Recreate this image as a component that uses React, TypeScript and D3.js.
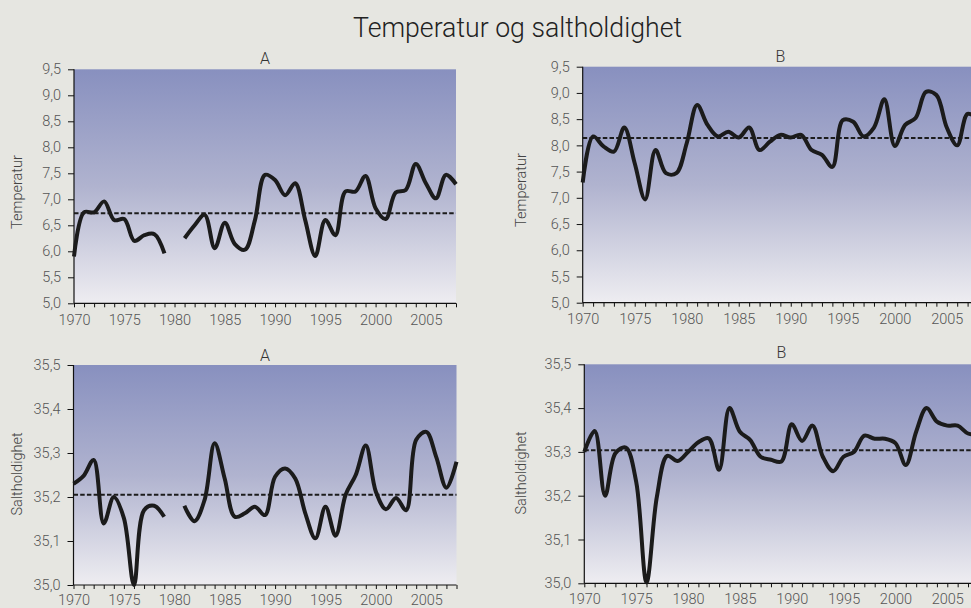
import React, { useEffect, useRef } from 'react';
import * as d3 from 'd3';

// år langs x-aksen
const years = [
  1970, 1971, 1972, 1973, 1974, 1975, 1976, 1977, 1978, 1979,
  1980, 1981, 1982, 1983, 1984, 1985, 1986, 1987, 1988, 1989,
  1990, 1991, 1992, 1993, 1994, 1995, 1996, 1997, 1998, 1999,
  2000, 2001, 2002, 2003, 2004, 2005, 2006, 2007, 2008,
];

// temperatur, stasjon A (mangler 1980)
const tempA = [
  5.9, 6.75, 6.75, 6.96, 6.6, 6.62, 6.2, 6.31, 6.33, 5.96,
  null, 6.25, 6.5, 6.7, 6.06, 6.55, 6.14, 6.03, 6.6, 7.47,
  7.37, 7.08, 7.31, 6.6, 5.91, 6.6, 6.31, 7.15, 7.15, 7.45,
  6.83, 6.62, 7.13, 7.18, 7.68, 7.31, 7.02, 7.47, 7.29,
];
// temperatur, stasjon B
const tempB = [
  7.29, 8.17, 7.98, 7.88, 8.34, 7.66, 6.97, 7.91, 7.47, 7.47,
  8.04, 8.77, 8.39, 8.17, 8.26, 8.15, 8.34, 7.91, 8.07, 8.2,
  8.15, 8.2, 7.91, 7.82, 7.59, 8.48, 8.45, 8.17, 8.34, 8.88,
  7.99, 8.39, 8.52, 9.02, 8.96, 8.34, 8.0, 8.6, 8.5,
];
// saltholdighet, stasjon A (mangler 1980)
const salA = [
  35.23, 35.248, 35.284, 35.14, 35.2, 35.152, 35.0, 35.17, 35.18, 35.155,
  null, 35.18, 35.145, 35.193, 35.322, 35.242, 35.155, 35.163, 35.178, 35.159,
  35.246, 35.265, 35.242, 35.163, 35.106, 35.178, 35.112, 35.205, 35.25, 35.317,
  35.212, 35.172, 35.198, 35.17, 35.33, 35.348, 35.29, 35.221, 35.28,
];
// saltholdighet, stasjon B
const salB = [
  35.3, 35.348, 35.2, 35.297, 35.31, 35.232, 35.002, 35.198, 35.291, 35.279,
  35.3, 35.322, 35.331, 35.259, 35.4, 35.346, 35.327, 35.289, 35.282, 35.278,
  35.363, 35.325, 35.36, 35.289, 35.256, 35.289, 35.3, 35.337, 35.33, 35.33,
  35.32, 35.27, 35.346, 35.4, 35.369, 35.36, 35.36, 35.342, 35.34,
];

// gjennomsnitt (stiplet linje)
const meanTempA = 6.73;
const meanTempB = 8.14;
const meanSalA = 35.205;
const meanSalB = 35.304;

const tempTicks = [5.0, 5.5, 6.0, 6.5, 7.0, 7.5, 8.0, 8.5, 9.0, 9.5];
const salTicks = [35.0, 35.1, 35.2, 35.3, 35.4, 35.5];
const yearLabels = [1970, 1975, 1980, 1985, 1990, 1995, 2000, 2005];

const title = 'Temperatur og saltholdighet';

const width = 971;
const height = 608;
const font = 'Roboto, "Noto Sans", sans-serif';

const locale = d3.formatLocale({
  decimal: ',',
  thousands: ' ',
  grouping: [3],
  currency: ['', ' kr'],
});

interface Panel {
  name: string;
  label: string;
  values: (number | null)[];
  mean: number;
  ticks: number[];
  domain: [number, number];
  x0: number;
  x1: number;
  y0: number;
  y1: number;
  pad: number;
  nameY: number;
  labelX: number;
  labelY: number;
}

const panels: Panel[] = [
  { name: 'A', label: 'Temperatur', values: tempA, mean: meanTempA, ticks: tempTicks, domain: [5, 9.5],
    x0: 74, x1: 456, y0: 303.3, y1: 69.3, pad: 7, nameY: 64, labelX: 17, labelY: 192 },
  { name: 'B', label: 'Temperatur', values: tempB, mean: meanTempB, ticks: tempTicks, domain: [5, 9.5],
    x0: 582.7, x1: 978, y0: 302.7, y1: 66.7, pad: 7, nameY: 62, labelX: 521, labelY: 190 },
  { name: 'A', label: 'Saltholdighet', values: salA, mean: meanSalA, ticks: salTicks, domain: [35, 35.5],
    x0: 73.5, x1: 456.5, y0: 585, y1: 365, pad: 6, nameY: 361, labelX: 17, labelY: 474 },
  { name: 'B', label: 'Saltholdighet', values: salB, mean: meanSalB, ticks: salTicks, domain: [35, 35.5],
    x0: 584.3, x1: 978.4, y0: 583.3, y1: 364.3, pad: 6, nameY: 358, labelX: 521, labelY: 473 },
];

const App: React.FC = () => {
  const ref = useRef<SVGSVGElement>(null);

  useEffect(() => {
    if (!ref.current) return;
    const svg = d3.select(ref.current);
    svg.selectAll('*').remove();

    const defs = svg.append('defs');
    const grad = defs
      .append('linearGradient')
      .attr('id', 'bg')
      .attr('x1', 0)
      .attr('y1', 0)
      .attr('x2', 0)
      .attr('y2', 1);
    grad.append('stop').attr('offset', '0%').attr('stop-color', '#8890bf');
    grad.append('stop').attr('offset', '50%').attr('stop-color', '#b0b3cf');
    grad.append('stop').attr('offset', '100%').attr('stop-color', '#eeedf1');

    svg.append('rect').attr('width', width).attr('height', height).attr('fill', '#e6e6e1');

    svg
      .append('text')
      .attr('x', 517.5)
      .attr('y', 37)
      .attr('text-anchor', 'middle')
      .attr('font-family', font)
      .attr('font-weight', 300)
      .attr('font-size', 28)
      .attr('textLength', 329)
      .attr('lengthAdjust', 'spacingAndGlyphs')
      .attr('fill', '#222')
      .text(title);

    const fmt = locale.format('.1f');

    panels.forEach((p) => {
      const x = d3.scaleLinear().domain([1970, 2008]).range([p.x0, p.x1]);
      const y = d3.scaleLinear().domain(p.domain).range([p.y0, p.y1]);
      const g = svg.append('g');

      g.append('rect')
        .attr('x', p.x0)
        .attr('y', p.y1)
        .attr('width', p.x1 - p.x0)
        .attr('height', p.y0 - p.y1)
        .attr('fill', 'url(#bg)');

      // aksene
      const xAxis = d3
        .axisBottom(x)
        .tickValues(years)
        .tickSize(4)
        .tickPadding(p.pad)
        .tickFormat((d) => (yearLabels.includes(+d) ? String(d) : ''));
      const yAxis = d3
        .axisLeft(y)
        .tickValues(p.ticks)
        .tickSize(6)
        .tickPadding(7)
        .tickFormat((d) => fmt(+d));

      const gx = g.append('g').attr('transform', `translate(0,${p.y0})`).call(xAxis);
      const gy = g.append('g').attr('transform', `translate(${p.x0},0)`).call(yAxis);
      [gx, gy].forEach((a) => {
        a.select('.domain').attr('stroke', '#111').attr('stroke-width', 1.2);
        a.selectAll('.tick line').attr('stroke', '#111');
        a.selectAll('.tick text')
          .attr('font-family', font)
          .attr('font-weight', 300)
          .attr('font-size', 14.5)
          .attr('fill', '#555');
      });
      gx.select('.domain').attr('d', `M${p.x0},0H${p.x1}`);
      gy.select('.domain').attr('d', `M0,${p.y0}V${p.y1}`);

      // gjennomsnitt
      g.append('line')
        .attr('x1', p.x0)
        .attr('x2', p.x1)
        .attr('y1', y(p.mean))
        .attr('y2', y(p.mean))
        .attr('stroke', '#1c1c1c')
        .attr('stroke-width', 2)
        .attr('stroke-dasharray', '4.5,2.2');

      const line = d3
        .line<number>()
        .defined((_, i) => p.values[i] != null)
        .x((_, i) => x(years[i]))
        .y((_, i) => y(p.values[i] as number))
        .curve(d3.curveCatmullRom.alpha(0.5));

      g.append('path')
        .attr('d', line(years))
        .attr('fill', 'none')
        .attr('stroke', '#1b1b1b')
        .attr('stroke-width', 4)
        .attr('stroke-linejoin', 'round');

      g.append('text')
        .attr('x', (p.x0 + p.x1) / 2)
        .attr('y', p.nameY)
        .attr('text-anchor', 'middle')
        .attr('font-family', font)
        .attr('font-weight', 300)
        .attr('font-size', 16)
        .attr('fill', '#333')
        .text(p.name);

      g.append('text')
        .attr('transform', `translate(${p.labelX},${p.labelY}) rotate(-90)`)
        .attr('text-anchor', 'middle')
        .attr('dominant-baseline', 'central')
        .attr('font-family', font)
        .attr('font-weight', 300)
        .attr('font-size', 14.5)
        .attr('fill', '#444')
        .text(p.label);
    });
  }, []);

  return (
    <svg
      ref={ref}
      width={width}
      height={height}
      style={{ position: 'absolute', left: 0, top: 0, display: 'block' }}
    />
  );
};

export default App;
